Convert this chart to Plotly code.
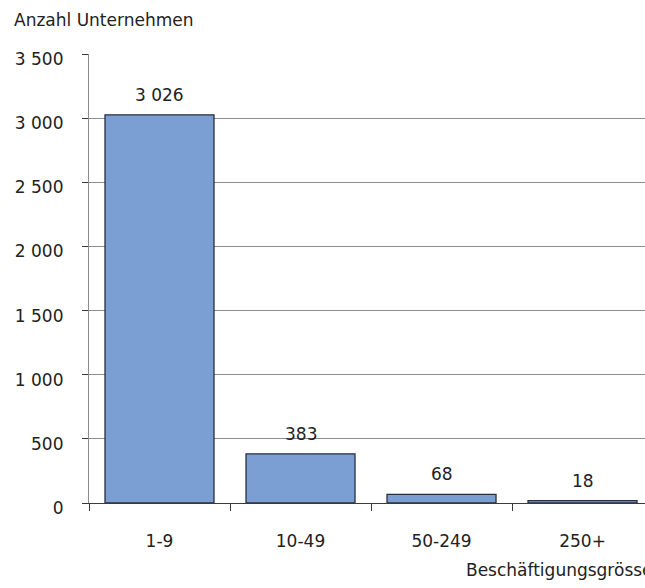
import plotly.graph_objects as go

categories = ["1-9", "10-49", "50-249", "250+"]
values = [3026, 383, 68, 18]
y_ticks = [0, 500, 1000, 1500, 2000, 2500, 3000, 3500]
y_title = "Anzahl Unternehmen"
x_title = "Beschäftigungsgrösse"

FONT = "DejaVu Sans"
FS = 17
TXT = "#222222"

def fmt(v):
    return f"{v:,}".replace(",", " ")

fig = go.Figure()
fig.add_trace(go.Bar(
    x=categories, y=values,
    marker=dict(color="#7C9FD3", line=dict(color="#2a2f3a", width=1.3)),
    hoverinfo="skip",
))

for c, v in zip(categories, values):
    fig.add_annotation(x=c, y=v, text=fmt(v), showarrow=False,
                       yanchor="middle", yshift=20,
                       font=dict(family=FONT, size=FS, color=TXT))

fig.add_annotation(xref="paper", yref="paper", x=(464 - 89) / 556, y=0,
                   xanchor="left", yanchor="middle", yshift=-67,
                   text=x_title, showarrow=False,
                   font=dict(family=FONT, size=FS, color=TXT))

fig.update_layout(
    width=645, height=588,
    margin=dict(l=89, r=0, t=54, b=85),
    paper_bgcolor="white", plot_bgcolor="white",
    showlegend=False,
    bargap=0.227,
    separators=", ",
    title=dict(text=y_title, xref="container", yref="container",
               x=14 / 645, xanchor="left", y=1 - 20.5 / 588, yanchor="middle",
               font=dict(family=FONT, size=FS, color=TXT)),
    font=dict(family=FONT, size=FS, color=TXT),
)

fig.update_xaxes(
    range=[-0.5, 3.443],
    showline=True, linecolor="#3a3a3a", linewidth=1.2,
    ticks="outside", tickson="boundaries", ticklen=7, tickcolor="#3a3a3a",
    ticklabelstandoff=22,
    showgrid=False, zeroline=False,
    tickfont=dict(family=FONT, size=FS, color=TXT),
)
fig.update_yaxes(
    range=[0, 3500], tickvals=y_ticks, tickformat=",",
    showline=True, linecolor="#8a8a8a", linewidth=1.2,
    ticks="outside", ticklen=6, tickcolor="#3a3a3a",
    showgrid=True, gridcolor="#8c8c8c", gridwidth=1,
    zeroline=False,
    ticklabelstandoff=15, ticklabelshift=5,
    tickfont=dict(family=FONT, size=FS, color=TXT),
)

fig.write_html("out.html")
